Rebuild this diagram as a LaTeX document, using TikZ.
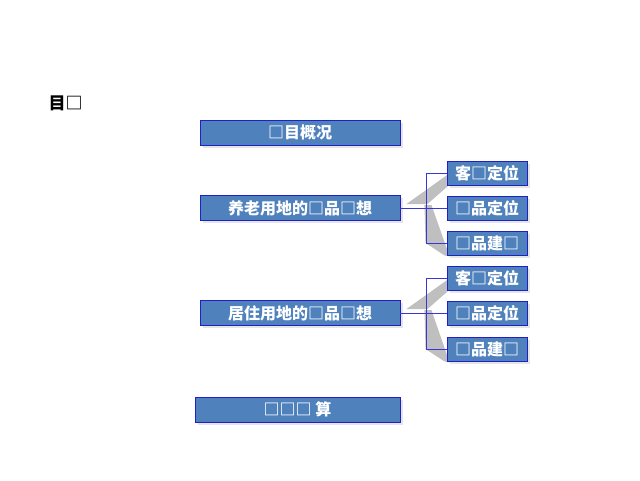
\documentclass[tikz,border=0pt]{standalone}
\usepackage{fontspec}
\newfontfamily\cjk{Noto Sans CJK SC}
\usetikzlibrary{shadows,backgrounds}
\definecolor{boxfill}{HTML}{4F81BD}
\definecolor{boxline}{HTML}{2020C8}
\definecolor{linkblue}{HTML}{3838D0}
\tikzset{
  topic/.style={draw=boxline, fill=boxfill, text=white, font=\cjk\bfseries\fontsize{16}{16}\selectfont,
    minimum width=200, minimum height=25, inner sep=0pt, line width=0.9pt,
    drop shadow={shadow xshift=2.5pt, shadow yshift=-2.5pt, fill=black!10, opacity=1}},
  leaf/.style={topic, minimum width=80, minimum height=24},
  link/.style={linkblue, line width=0.9pt},
  wedge/.style={fill=black!25, draw=none}
}
\begin{document}
\begin{tikzpicture}[x=1pt,y=-1pt]
    \useasboundingbox (0,0) rectangle (640,480);
    \node [anchor=west, font=\cjk\bfseries\fontsize{17}{17}\selectfont] (toc) at (45,103) {目□};
    \node [topic] (proj) at (300,132.5) {□目概况};
    % first group
    \node [topic] (old) at (300,208) {养老用地的□品□想};
    \node [leaf] (old1) at (487,173) {客□定位};
    \node [leaf] (old2) at (487,208) {□品定位};
    \node [leaf] (old3) at (487,243) {□品建□};
    % second group
    \node [topic] (res) at (300,313) {居住用地的□品□想};
    \node [leaf] (res1) at (487,278) {客□定位};
    \node [leaf] (res2) at (487,313) {□品定位};
    \node [leaf] (res3) at (487,349) {□品建□};
    \node [topic, minimum width=205] (calc) at (297.5,409.5) {□□□ 算};
    % grey wedges behind the branches
    \begin{scope}[on background layer]
      \foreach \g in {old,res} {
        \fill [wedge] ([xshift=6,yshift=4]\g.east) -- ([xshift=2,yshift=-1]\g1.west) -- ([xshift=1,yshift=-1]\g1.south west) -- ([xshift=27,yshift=4]\g.east) -- cycle;
        \fill [wedge] ([xshift=24,yshift=3]\g.east) -- ([xshift=31,yshift=3]\g.east) -- ([xshift=3,yshift=-1]\g3.south west) -- ([xshift=-2]\g3.south west) -- ([xshift=-21]\g3.west) -- cycle;
      }
    \end{scope}
    % branch lines
    \foreach \g in {old,res} {
      \coordinate (\g j) at ([xshift=26]\g.east);
      \draw [link] (\g.east) -- (\g2.west);
      \draw [link] (\g1.west) -| (\g j) |- (\g3.west);
    }
\end{tikzpicture}
\end{document}
